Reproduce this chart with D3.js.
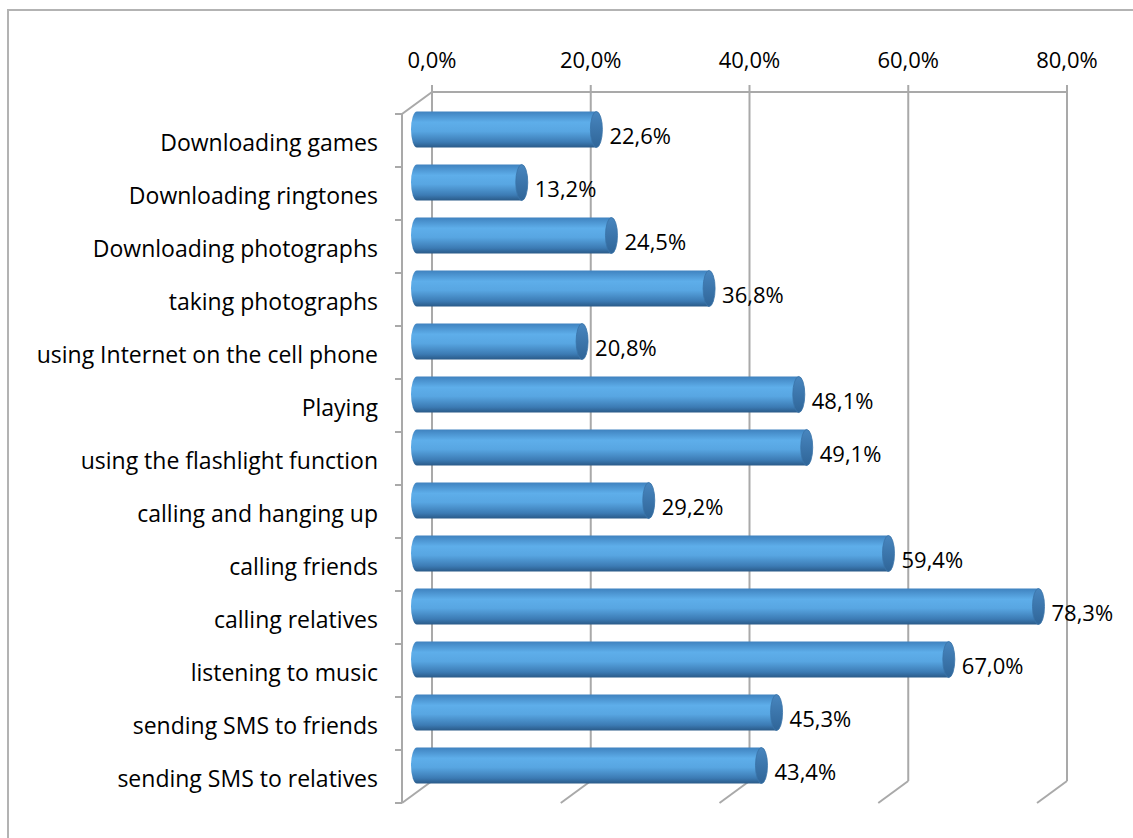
<!DOCTYPE html>
<html lang="en">
<head>
    <meta charset="UTF-8">
    <title>Cell phone use</title>
    <script type="application/javascript" src="https://cdnjs.cloudflare.com/ajax/libs/d3/7.8.5/d3.min.js"></script>
    <style type="text/css">
        body { margin: 0; background: #fff; }
        text { font-family: "Open Sans", sans-serif; font-size: 22px; fill: #000; }
        .ylabel { font-size: 23px; }
        .grid { stroke: #a9a9a9; stroke-width: 2; fill: none; }
    </style>
</head>
<body>
<svg id="chart" width="1133" height="838"></svg>
<script type="application/javascript">
    var categories = [
        'Downloading games',
        'Downloading ringtones',
        'Downloading photographs',
        'taking photographs',
        'using Internet on the cell phone',
        'Playing',
        'using the flashlight function',
        'calling and hanging up',
        'calling friends',
        'calling relatives',
        'listening to music',
        'sending SMS to friends',
        'sending SMS to relatives'
    ];
    var values = [22.6, 13.2, 24.5, 36.8, 20.8, 48.1, 49.1, 29.2, 59.4, 78.3, 67.0, 45.3, 43.4];
    var xTicks = [0, 20, 40, 60, 80];

    function makeChart() {
        var svg = d3.select('#chart');
        var depthX = 30, depthY = -22;   // 3d offset, front -> back
        var fmt = function (v) { return d3.format('.1f')(v).replace('.', ',') + '%'; };

        // front plane scales
        var x = d3.scaleLinear().domain([0, 80]).range([402, 1037]);
        var y = d3.scaleBand().domain(categories).range([114, 803]);
        var yTop = y.range()[0], yBottom = y.range()[1];

        // outer border (top and left only visible)
        svg.append('path')
            .attr('d', 'M8,838 V10 H1133')
            .attr('stroke', '#b3b3b3').attr('stroke-width', 2).attr('fill', 'none');

        var defs = svg.append('defs');
        var body = defs.append('linearGradient').attr('id', 'bodyGrad')
            .attr('x1', 0).attr('y1', 0).attr('x2', 0).attr('y2', 1);
        body.append('stop').attr('offset', '0%').attr('stop-color', '#3f82bf');
        body.append('stop').attr('offset', '30%').attr('stop-color', '#5eaeea');
        body.append('stop').attr('offset', '55%').attr('stop-color', '#58a6e2');
        body.append('stop').attr('offset', '85%').attr('stop-color', '#3c7bb4');
        body.append('stop').attr('offset', '100%').attr('stop-color', '#2a5a88');
        var cap = defs.append('linearGradient').attr('id', 'capGrad')
            .attr('x1', 0).attr('y1', 0).attr('x2', 0).attr('y2', 1);
        cap.append('stop').attr('offset', '0%').attr('stop-color', '#4886bf');
        cap.append('stop').attr('offset', '100%').attr('stop-color', '#2f6598');

        // back wall gridlines
        svg.selectAll('.vgrid')
            .data(xTicks)
            .enter()
            .append('line')
            .attr('class', 'grid')
            .attr('x1', function (d) { return x(d) + depthX; })
            .attr('x2', function (d) { return x(d) + depthX; })
            .attr('y1', yTop + depthY - 7)
            .attr('y2', yBottom + depthY);

        // floor diagonals
        svg.selectAll('.diag')
            .data(xTicks)
            .enter()
            .append('line')
            .attr('class', 'grid')
            .attr('x1', function (d) { return x(d); })
            .attr('y1', yBottom)
            .attr('x2', function (d) { return x(d) + depthX; })
            .attr('y2', yBottom + depthY);

        // top axis line + left wall
        svg.append('line').attr('class', 'grid')
            .attr('x1', x(0) + depthX).attr('x2', x(80) + depthX)
            .attr('y1', yTop + depthY).attr('y2', yTop + depthY);
        svg.append('path').attr('class', 'grid')
            .attr('d', 'M' + (x(0) + depthX) + ',' + (yTop + depthY) + ' L' + x(0) + ',' + yTop + ' V' + yBottom);

        // left axis ticks at band boundaries
        var bounds = categories.map(function (c) { return y(c); }).concat([yBottom]);
        svg.selectAll('.ytick')
            .data(bounds)
            .enter()
            .append('line')
            .attr('class', 'grid')
            .attr('x1', x(0) - 7).attr('x2', x(0))
            .attr('y1', function (d) { return d; })
            .attr('y2', function (d) { return d; });

        // top tick labels
        svg.selectAll('.xlabel')
            .data(xTicks)
            .enter()
            .append('text')
            .attr('x', function (d) { return x(d) + depthX; })
            .attr('y', 62)
            .attr('text-anchor', 'middle')
            .attr('dominant-baseline', 'middle')
            .text(fmt);

        // category labels
        svg.selectAll('.ylabel')
            .data(categories)
            .enter()
            .append('text')
            .attr('class', 'ylabel')
            .attr('x', 378)
            .attr('y', function (d) { return y(d) + y.bandwidth() / 2 + 4; })
            .attr('text-anchor', 'end')
            .attr('dominant-baseline', 'middle')
            .text(function (d) { return d; });

        // cylinders, drawn at mid depth
        var barH = 36, rx = 6;
        var mid = function (v) { return x(v) + depthX / 2; };
        var cy = function (c) { return y(c) + y.bandwidth() / 2 + depthY / 2; };

        var bars = svg.selectAll('.bar')
            .data(values)
            .enter()
            .append('g')
            .attr('class', 'bar');

        bars.append('path')
            .attr('fill', 'url(#bodyGrad)')
            .attr('d', function (d, i) {
                var c = cy(categories[i]), x0 = mid(0), x1 = mid(d);
                var r = barH / 2;
                return 'M' + x1 + ',' + (c - r) +
                    ' H' + x0 +
                    ' A' + rx + ',' + r + ' 0 0 0 ' + x0 + ',' + (c + r) +
                    ' H' + x1 + ' Z';
            });

        bars.append('ellipse')
            .attr('fill', 'url(#capGrad)')
            .attr('stroke', '#3a73a8')
            .attr('stroke-width', 0.8)
            .attr('cx', function (d) { return mid(d); })
            .attr('cy', function (d, i) { return cy(categories[i]); })
            .attr('rx', rx)
            .attr('ry', barH / 2);

        // value labels
        svg.selectAll('.vlabel')
            .data(values)
            .enter()
            .append('text')
            .attr('x', function (d) { return mid(d) + rx + 7; })
            .attr('y', function (d, i) { return cy(categories[i]) + 9; })
            .attr('dominant-baseline', 'middle')
            .text(fmt);
    }
    makeChart();
</script>
</body>
</html>
